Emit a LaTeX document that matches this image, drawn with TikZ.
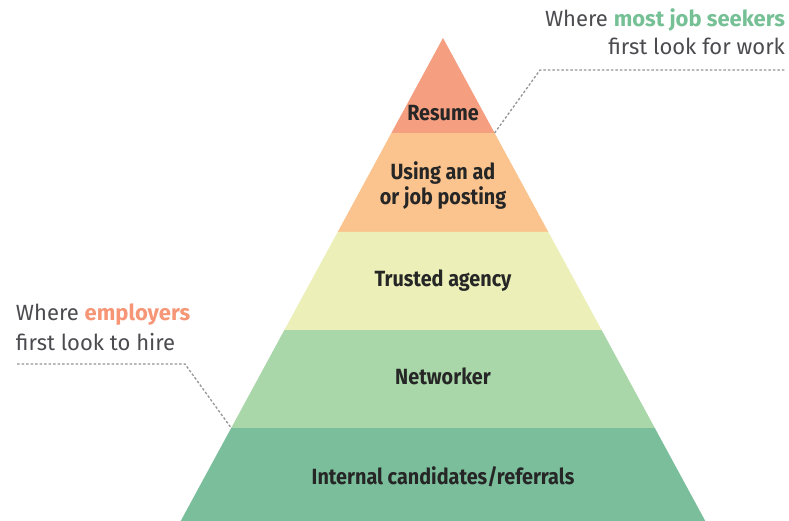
\documentclass[tikz,border=0pt]{standalone}
\usepackage{fontspec}
\setmainfont{Fira Sans}
\newfontfamily\layerfont[FakeStretch=0.9]{Fira Sans}
\begin{document}
\begin{tikzpicture}[x=1pt,y=-1pt]
\definecolor{resumeColor}{RGB}{245,158,128}
\definecolor{adColor}{RGB}{251,196,142}
\definecolor{agencyColor}{RGB}{236,240,184}
\definecolor{networkColor}{RGB}{169,215,169}
\definecolor{internalColor}{RGB}{122,190,155}
\definecolor{labelColor}{RGB}{38,38,38}
\definecolor{noteColor}{RGB}{75,75,80}
\definecolor{seekerColor}{RGB}{118,192,150}
\definecolor{employerColor}{RGB}{246,150,118}
\definecolor{leaderColor}{gray}{0.58}
\tikzset{
  layerLabel/.style={text=labelColor,font=\layerfont\bfseries\fontsize{22}{25}\selectfont,
    align=center,inner sep=0pt,outer sep=0pt},
  noteText/.style={text=noteColor,font=\fontsize{22}{28}\selectfont,inner sep=0pt,outer sep=0pt},
  leader/.style={draw=leaderColor,line width=1.3pt,dash pattern=on 2.5pt off 2pt}
}
\path[use as bounding box,fill=white] (0,0) rectangle (789,521);
\begin{scope}
\path[clip] (0,0) rectangle (789,521);
% corners of the layers
\coordinate (apex) at (443,38);
\coordinate (l1) at (391.4,133); \coordinate (r1) at (494.6,133);
\coordinate (l2) at (337.7,232); \coordinate (r2) at (548.3,232);
\coordinate (l3) at (284.4,330); \coordinate (r3) at (601.6,330);
\coordinate (l4) at (231.2,428); \coordinate (r4) at (654.8,428);
\coordinate (l5) at (180.7,521); \coordinate (r5) at (705.3,521);

\path[fill=resumeColor] (apex) -- (r1) -- (l1) -- cycle;

\path[fill=adColor] (l1) -- (r1) -- (r2) -- (l2) -- cycle;

\path[fill=agencyColor] (l2) -- (r2) -- (r3) -- (l3) -- cycle;

\path[fill=networkColor] (l3) -- (r3) -- (r4) -- (l4) -- cycle;

\path[fill=internalColor] (l4) -- (r4) -- (r5) -- (l5) -- cycle;
\end{scope}

\node[layerLabel] (resume) at (443,113) {Resume};

\node[layerLabel] (adPosting) at (443,186) {Using an ad\\or job posting};

\node[layerLabel] (agency) at (443,281) {Trusted agency};

\node[layerLabel] (networker) at (443,376) {Networker};

\node[layerLabel] (internal) at (443,477) {Internal candidates/referrals};

% notes
\node[noteText,anchor=base east] (seekersA) at (785,27) {Where \textcolor{seekerColor}{\bfseries most job seekers}};
\node[noteText,anchor=base east] (seekersB) at (785,55) {first look for work};

\node[noteText,anchor=base west] (employersA) at (16,320) {Where \textcolor{employerColor}{\bfseries employers}};
\node[noteText,anchor=base west] (employersB) at (16,350) {first look to hire};

\coordinate (seekersEnd) at (785,70);
\coordinate (seekersElbow) at (540,70);
\coordinate (employersStart) at (17,364);
\coordinate (employersElbow) at (185,364);

\draw[leader] (r1) -- (seekersElbow) -- (seekersEnd);

\draw[leader] (employersStart) -- (employersElbow) -- (l4);
\end{tikzpicture}
\end{document}
